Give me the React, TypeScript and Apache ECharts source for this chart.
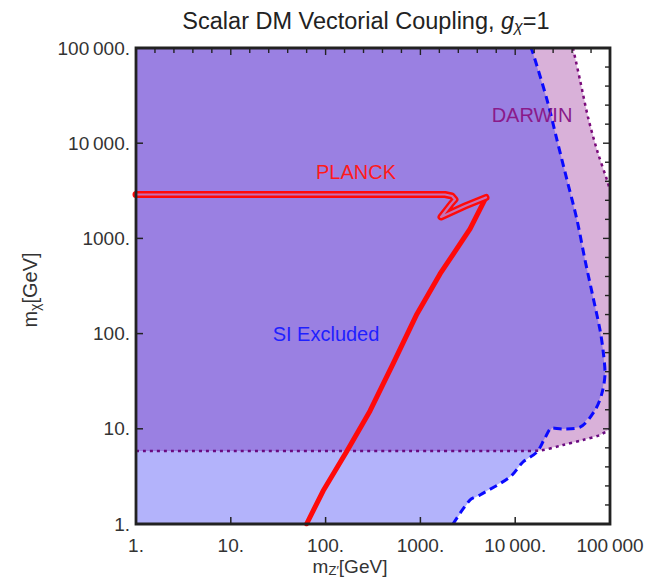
import React, { useEffect, useRef } from "react";
import * as echarts from "echarts";

// ---- data (GeV) ----
const xTickValues = [1, 10, 100, 1000, 10000, 100000];
const xTickLabels = ["1.", "10.", "100.", "1000.", "10\u2009000.", "100\u2009000"];
const yTickValues = [1, 10, 100, 1000, 10000, 100000];
const yTickLabels = ["1.", "10.", "100.", "1000.", "10\u2009000.", "100\u2009000."];
// top / right frame ticks: five per decade (log10 exponents)
const frameTickExponents = [
  0, 0.2, 0.4, 0.6, 0.8, 1, 1.2, 1.4, 1.6, 1.8, 2, 2.2, 2.4, 2.6, 2.8, 3,
  3.2, 3.4, 3.6, 3.8, 4, 4.2, 4.4, 4.6, 4.8, 5,
];

// SI exclusion boundary (blue dashed), bottom -> top : [mZ', mchi]
const siBoundary: [number, number][] = [
  [2208, 1], [3337, 1.79], [4253, 2.02], [8810, 3.12], [12080, 4.48], [16980, 5.71],
  [20620, 8.0], [24430, 10.2], [31920, 9.95], [48270, 10.4], [69500, 15.7], [82400, 23.8],
  [88600, 38.6], [84400, 67.3], [78500, 109], [66200, 242], [54500, 593], [44900, 1560],
  [35200, 4100], [27600, 10800], [21700, 28400], [15400, 88700], [14700, 100000],
];

// DARWIN reach (purple dotted): lower branch and upper branch
const darwinLower: [number, number][] = [
  [1, 5.85], [12000, 5.85], [18270, 5.92], [31900, 6.76], [51900, 7.63], [78500, 8.61], [100000, 9.95],
];
const darwinUpper: [number, number][] = [
  [40700, 100000], [48270, 46100], [58600, 18800], [72900, 8480], [93000, 4100], [100000, 3220],
];

// PLANCK relic density contour (red)
const planckBand: [number, number][] = [
  [1, 2891], [1817, 2891], [2155, 2790], [2317, 2563], [2104, 2297], [1650, 1679],
  [2956, 2190], [4920, 2690],
];
const planckDiagonal: [number, number][] = [
  [4920, 2690], [3340, 1256], [1610, 423], [920, 161], [514, 48], [294, 15.4],
  [168, 5.85], [94, 2.22], [63, 1],
];

const X_MIN = 1, X_MAX = 100000, Y_MIN = 1, Y_MAX = 100000;
// plot frame corners
const frameCorners: [number, number][] = [
  [X_MIN, Y_MIN], [X_MAX, Y_MIN], [X_MAX, Y_MAX], [X_MIN, Y_MAX], [X_MIN, Y_MIN],
];
const FONT = "'Liberation Sans', Arial, sans-serif";
const INK = "#222222";

function polygonSeries(points: [number, number][], fill: string, z: number) {
  return {
    type: "custom",
    coordinateSystem: "cartesian2d",
    silent: true,
    clip: true,
    z,
    data: [points[0]],
    renderItem: (_params: any, api: any) => ({
      type: "polygon",
      shape: { points: points.map((p) => api.coord(p)) },
      style: { fill, stroke: "none" },
    }),
  };
}

// a filled bar (used for tick marks)
function bar(x: number, y: number, width: number, height: number) {
  return {
    type: "rect",
    z: 100,
    silent: true,
    shape: { x, y, width, height },
    style: { fill: INK },
  };
}

export default function App() {
  const ref = useRef<HTMLDivElement>(null);
  useEffect(() => {
    if (!ref.current) return;
    const chart = echarts.init(ref.current, undefined, { renderer: "svg" });

    const siRegion: [number, number][] = [[X_MIN, Y_MIN], ...siBoundary, [X_MIN, Y_MAX]];
    const darwinRegion: [number, number][] = [
      ...darwinLower,
      ...[...darwinUpper].reverse(),
      [X_MIN, Y_MAX],
    ];

    const xLabelMap: Record<number, string> = {};
    xTickValues.forEach((v, i) => (xLabelMap[v] = xTickLabels[i]));
    const yLabelMap: Record<number, string> = {};
    yTickValues.forEach((v, i) => (yLabelMap[v] = yTickLabels[i]));

    const labelStyle = { color: "#333", fontSize: 19, fontFamily: FONT };

    chart.setOption({
      animation: false,
      backgroundColor: "#ffffff",
      grid: { left: 136, top: 48, right: 56, bottom: 56, containLabel: false },
      xAxis: {
        type: "log",
        logBase: 10,
        min: X_MIN,
        max: X_MAX,
        position: "bottom",
        axisLine: { show: false },
        axisTick: { show: false },
        minorTick: { show: false },
        splitLine: { show: false },
        axisLabel: {
          ...labelStyle,
          margin: 12,
          showMinLabel: true,
          showMaxLabel: true,
          formatter: (v: number) => xLabelMap[Math.round(v)] ?? "",
        },
      },
      yAxis: {
        type: "log",
        logBase: 10,
        min: Y_MIN,
        max: Y_MAX,
        position: "left",
        axisLine: { show: false },
        axisTick: { show: false },
        minorTick: { show: false },
        splitLine: { show: false },
        axisLabel: {
          ...labelStyle,
          margin: 6,
          showMinLabel: true,
          showMaxLabel: true,
          formatter: (v: number) => yLabelMap[Math.round(v)] ?? "",
        },
      },
      series: [
        polygonSeries(darwinRegion, "#d9b1d9", 1),
        polygonSeries(siRegion, "rgba(40,40,244,0.354)", 2),
        {
          type: "line",
          data: darwinLower,
          showSymbol: false,
          smooth: 0.3,
          z: 5,
          silent: true,
          lineStyle: { color: "#6a0a80", width: 2.5, type: [3, 4] },
        },
        {
          type: "line",
          data: darwinUpper,
          showSymbol: false,
          smooth: 0.3,
          z: 5,
          silent: true,
          lineStyle: { color: "#7a0a7a", width: 2.5, type: [3, 4] },
        },
        {
          type: "line",
          data: siBoundary,
          showSymbol: false,
          smooth: 0.3,
          z: 6,
          silent: true,
          lineStyle: { color: "#0a0aff", width: 3, type: [8, 5] },
        },
        {
          type: "line",
          data: planckBand,
          showSymbol: false,
          z: 7,
          silent: true,
          lineStyle: { color: "#ff0a0a", width: 7, join: "round", cap: "round" },
        },
        {
          type: "line",
          data: planckDiagonal,
          showSymbol: false,
          z: 7,
          silent: true,
          lineStyle: { color: "#ff0a0a", width: 5, join: "round", cap: "round" },
        },
        {
          type: "line",
          data: planckBand,
          showSymbol: false,
          z: 8,
          silent: true,
          lineStyle: { color: "#c870b4", width: 2.2, join: "round", cap: "round" },
        },
        {
          type: "line",
          data: frameCorners,
          showSymbol: false,
          clip: false,
          z: 60,
          silent: true,
          lineStyle: { color: INK, width: 2.8, join: "miter", cap: "square" },
        },
      ],
    });

    // tick marks, positioned through the axes' own scales
    const px = (v: number) => Number(chart.convertToPixel({ xAxisIndex: 0 }, v));
    const py = (v: number) => Number(chart.convertToPixel({ yAxisIndex: 0 }, v));
    const x0 = px(X_MIN), x1 = px(X_MAX), y0 = py(Y_MIN), y1 = py(Y_MAX);
    const ticks: any[] = [];
    xTickValues.forEach((v) => ticks.push(bar(px(v) - 0.75, y0 - 7, 1.5, 7)));
    yTickValues.forEach((v) => ticks.push(bar(x0, py(v) - 0.75, 7, 1.5)));
    frameTickExponents.forEach((e) => {
      const major = Math.abs(e - Math.round(e)) < 1e-6;
      const len = major ? 7 : 5;
      const v = Math.pow(10, e);
      ticks.push(bar(px(v) - 0.7, y1, 1.4, len));
      ticks.push(bar(x1 - len, py(v) - 0.7, len, 1.4));
    });

    chart.setOption({
      graphic: [
        ...ticks,
        {
          type: "text",
          x: 366,
          y: 21,
          style: {
            text: "{a|Scalar DM Vectorial Coupling, }{i|g}{s|χ}{a|=1}",
            align: "center",
            verticalAlign: "middle",
            fill: "#222",
            rich: {
              a: { fontSize: 23.5, fontFamily: FONT, fill: "#222", lineHeight: 28 },
              i: { fontSize: 23.5, fontFamily: FONT, fontStyle: "italic", fill: "#222", lineHeight: 28 },
              s: { fontSize: 16, fontFamily: FONT, fontStyle: "italic", fill: "#222", padding: [10, 0, 0, 0] },
            },
          },
        },
        {
          type: "text",
          x: 30,
          y: 290,
          rotation: Math.PI / 2,
          style: {
            text: "{a|m}{s|χ}{a|[GeV]}",
            align: "center",
            verticalAlign: "middle",
            rich: {
              a: { fontSize: 20, fontFamily: FONT, fill: "#333", lineHeight: 22 },
              s: { fontSize: 14, fontFamily: FONT, fill: "#333", padding: [9, 0, 0, 0] },
            },
          },
        },
        {
          type: "text",
          x: 350,
          y: 566,
          style: {
            text: "{a|m}{s|Z′}{a|[GeV]}",
            align: "center",
            verticalAlign: "middle",
            rich: {
              a: { fontSize: 19, fontFamily: FONT, fill: "#333", lineHeight: 22 },
              s: { fontSize: 13, fontFamily: FONT, fill: "#333", padding: [9, 0, 0, 0] },
            },
          },
        },
        {
          type: "text",
          x: 356,
          y: 172,
          z: 20,
          style: { text: "PLANCK", fontSize: 20, fontFamily: FONT, fill: "#ff1a1a", align: "center", verticalAlign: "middle" },
        },
        {
          type: "text",
          x: 532,
          y: 115,
          z: 20,
          style: { text: "DARWIN", fontSize: 20, fontFamily: FONT, fill: "#8a1a8a", align: "center", verticalAlign: "middle" },
        },
        {
          type: "text",
          x: 326,
          y: 334,
          z: 20,
          style: { text: "SI Excluded", fontSize: 20, fontFamily: FONT, fill: "#1f1fff", align: "center", verticalAlign: "middle" },
        },
      ],
    });

    return () => chart.dispose();
  }, []);

  return <div ref={ref} style={{ width: 666, height: 580, position: "absolute", left: 0, top: 0 }} />;
}
